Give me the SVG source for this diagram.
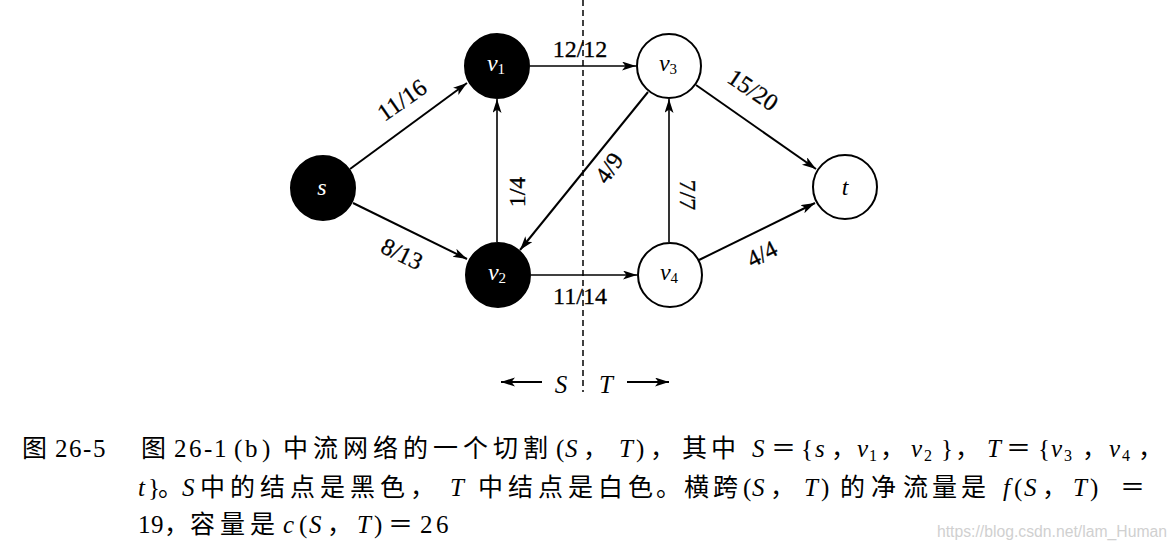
<svg xmlns="http://www.w3.org/2000/svg" width="1176" height="550" viewBox="0 0 1176 550">
<style>
  .edge { stroke: #000; stroke-width: 2; fill: none; marker-end: url(#arr); }
  .thin { stroke-width: 1.6; }
  .lbl { font-family: "Liberation Serif", "Times New Roman", serif; font-size: 24px; fill: #000; stroke: #000; stroke-width: 0.3; text-anchor: middle; }
  .blk { fill: #000; stroke: #000; stroke-width: 2; }
  .wht { fill: #fff; stroke: #000; stroke-width: 2; }
  .nl { font-family: "Liberation Serif", serif; font-style: italic; font-size: 24px; text-anchor: middle; }
  .nlw { fill: #fff; }
  .nlb { fill: #000; }
  .sub { font-size: 15px; font-style: normal; }
  .cap { font-family: "Liberation Serif", "Noto Sans CJK SC", serif; font-size: 25px; fill: #000; }
  .it { font-style: italic; }
  .csub { font-size: 16px; }
</style>
<defs>
  <marker id="arr" markerUnits="userSpaceOnUse" markerWidth="15" markerHeight="10" refX="14" refY="4.5" orient="auto">
    <path d="M0,0 L14,4.5 L0,9 L3.5,4.5 z" fill="#000"/>
  </marker>
</defs>
<rect width="1176" height="550" fill="#fff"/>

<g id="cut">
  <line x1="583" y1="0" x2="583" y2="392" stroke="#000" stroke-width="1.5" stroke-dasharray="6,4"/>
  <line x1="542" y1="382" x2="501" y2="382" class="edge" stroke-width="1.8"/>
  <line x1="627" y1="382" x2="669" y2="382" class="edge" stroke-width="1.8"/>
  <text x="561" y="393" class="nl nlb" style="font-size:25px">S</text>
  <text x="606" y="393" class="nl nlb" style="font-size:25px">T</text>
</g>

<g id="edges">
  <line class="edge" x1="350" y1="169" x2="467" y2="83"/>
  <line class="edge" x1="353" y1="203" x2="467" y2="259"/>
  <line class="edge thin" x1="497" y1="242" x2="497" y2="99"/>
  <line class="edge thin" x1="530" y1="66" x2="636" y2="66"/>
  <line class="edge" x1="648" y1="92" x2="520" y2="250"/>
  <line class="edge thin" x1="669" y1="242" x2="669" y2="99"/>
  <line class="edge thin" x1="531" y1="275" x2="637" y2="275"/>
  <line class="edge" x1="696" y1="85" x2="816" y2="169"/>
  <line class="edge" x1="699" y1="260" x2="815" y2="203"/>
</g>

<g id="edge-labels">
  <text class="lbl" transform="translate(402,100) rotate(-35)" dy="8">11/16</text>
  <text class="lbl" transform="translate(402,254) rotate(26)" dy="8">8/13</text>
  <text class="lbl" transform="translate(517,192) rotate(-90)" dy="8">1/4</text>
  <text class="lbl" x="580" y="57">12/12</text>
  <text class="lbl" transform="translate(609,168) rotate(-55)" dy="8">4/9</text>
  <text class="lbl" transform="translate(688,195) rotate(90)" dy="8">7/7</text>
  <text class="lbl" x="580" y="304">11/14</text>
  <text class="lbl" transform="translate(753,90) rotate(34)" dy="8">15/20</text>
  <text class="lbl" transform="translate(762,254) rotate(-27)" dy="8">4/4</text>
</g>

<g id="node-s">
  <circle cx="323" cy="188" r="32" class="blk"/>
  <text x="322" y="195" class="nl nlw">s</text>
</g>
<g id="node-v1">
  <circle cx="497" cy="66" r="32" class="blk"/>
  <text x="496" y="71" class="nl nlw">v<tspan class="sub" dy="3">1</tspan></text>
</g>
<g id="node-v2">
  <circle cx="498" cy="275" r="32" class="blk"/>
  <text x="497" y="280" class="nl nlw">v<tspan class="sub" dy="3">2</tspan></text>
</g>
<g id="node-v3">
  <circle cx="669" cy="66" r="32" class="wht"/>
  <text x="668" y="71" class="nl nlb">v<tspan class="sub" dy="3">3</tspan></text>
</g>
<g id="node-v4">
  <circle cx="670" cy="275" r="32" class="wht"/>
  <text x="669" y="280" class="nl nlb">v<tspan class="sub" dy="3">4</tspan></text>
</g>
<g id="node-t">
  <circle cx="845" cy="187" r="32" class="wht"/>
  <text x="845" y="195" class="nl nlb">t</text>
</g>

<g id="caption">
  <text class="cap" y="457"><tspan x="22">图</tspan><tspan x="55 69 83 93">26-5</tspan></text>
  <text class="cap" y="457"><tspan x="141">图</tspan><tspan x="174 189 204 214">26-1</tspan><tspan x="234 245 262">(b)</tspan><tspan x="283 313 343 373 403 433 463 493 523">中流网络的一个切割</tspan><tspan x="556">(</tspan><tspan class="it" x="565">S</tspan><tspan x="583">，</tspan><tspan class="it" x="619">T</tspan><tspan x="636">)</tspan><tspan x="650">，</tspan><tspan x="682 711">其中</tspan><tspan class="it" x="752">S</tspan><tspan x="771">＝</tspan><tspan x="801">{</tspan><tspan class="it" x="815">s</tspan><tspan x="831">，</tspan><tspan class="it" x="857">v</tspan><tspan class="csub" x="869" y="461">1</tspan><tspan x="880" y="457">，</tspan><tspan class="it" x="911">v</tspan><tspan class="csub" x="924" y="461">2</tspan><tspan x="941" y="457">}</tspan><tspan x="955">，</tspan><tspan class="it" x="987">T</tspan><tspan x="1006">＝</tspan><tspan x="1038">{</tspan><tspan class="it" x="1051">v</tspan><tspan class="csub" x="1064" y="461">3</tspan><tspan x="1082" y="457">，</tspan><tspan class="it" x="1109">v</tspan><tspan class="csub" x="1122" y="461">4</tspan><tspan x="1138" y="457">，</tspan></text>
  <text class="cap" y="496"><tspan class="it" x="138">t</tspan><tspan x="148">}</tspan><tspan x="158">。</tspan><tspan class="it" x="182">S</tspan><tspan x="200 230 260 290 320 350 380">中的结点是黑色</tspan><tspan x="410">，</tspan><tspan class="it" x="450">T</tspan><tspan x="478 508 538 568 598 628">中结点是白色</tspan><tspan x="656">。</tspan><tspan x="684 713">横跨</tspan><tspan x="743">(</tspan><tspan class="it" x="752">S</tspan><tspan x="770">，</tspan><tspan class="it" x="804">T</tspan><tspan x="821">)</tspan><tspan x="840 871 903 932 961">的净流量是</tspan><tspan class="it" x="1003">f</tspan><tspan x="1014">(</tspan><tspan class="it" x="1024">S</tspan><tspan x="1042">，</tspan><tspan class="it" x="1073">T</tspan><tspan x="1090">)</tspan><tspan x="1120">＝</tspan></text>
  <text class="cap" y="533"><tspan x="138 151">19</tspan><tspan x="164">，</tspan><tspan x="190 220 250">容量是</tspan><tspan class="it" x="283">c</tspan><tspan x="299">(</tspan><tspan class="it" x="309">S</tspan><tspan x="327">，</tspan><tspan class="it" x="357">T</tspan><tspan x="374">)</tspan><tspan x="388">＝</tspan><tspan x="420 436">26</tspan></text>
</g>

<text x="937" y="537" font-family="Liberation Sans, Arial, sans-serif" font-size="16" fill="#d0d0d0" textLength="230" lengthAdjust="spacingAndGlyphs">https://blog.csdn.net/lam_Human</text>
</svg>
